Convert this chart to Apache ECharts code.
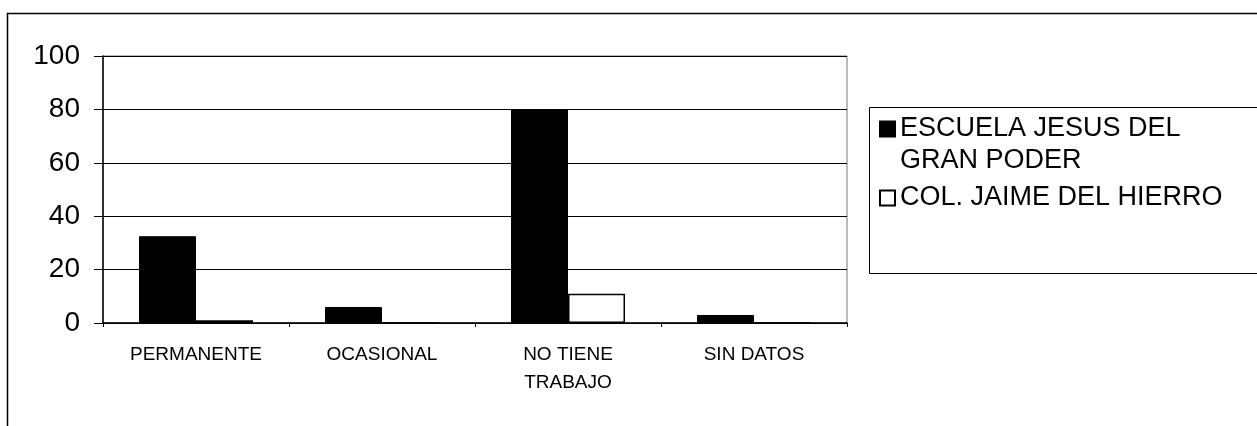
<!DOCTYPE html>
<html>
<head>
<meta charset="utf-8">
<script src="https://cdn.jsdelivr.net/npm/echarts@6/dist/echarts.min.js"></script>
<style>
  html, body { margin: 0; padding: 0; background: #fff; }
  #chart { width: 1257px; height: 426px; }
</style>
</head>
<body>
<div id="chart"></div>
<script>
// categorias y valores
const categorias = ['PERMANENTE', 'OCASIONAL', 'NO TIENE\nTRABAJO', 'SIN DATOS'];
const escuelaJesus = [32.5, 6, 80, 3];
const colJaime = [1, 0, 11, 0];
const nombres = ['ESCUELA JESUS DEL GRAN PODER', 'COL. JAIME DEL HIERRO'];

const myChart = echarts.init(document.getElementById('chart'));

const option = {
  backgroundColor: '#fff',
  animation: false,
  textStyle: { fontFamily: 'Liberation Sans, Arial, sans-serif' },
  graphic: [
    { // marco exterior
      type: 'rect', shape: { x: 7.5, y: 13.5, width: 1260, height: 430 },
      style: { fill: 'none', stroke: '#000', lineWidth: 1.5 }, silent: true
    },
    { // caja de leyenda
      type: 'rect', shape: { x: 869.5, y: 107.5, width: 400, height: 166 },
      style: { fill: 'none', stroke: '#000', lineWidth: 1 }, silent: true
    }
  ],
  legend: {
    orient: 'vertical',
    left: 879,
    top: 81,
    padding: 0,
    itemGap: 5,
    itemWidth: 15,
    itemHeight: 15,
    icon: 'rect',
    selectedMode: false,
    data: nombres,
    formatter: function (name) {
      // linea vacia arriba para que el cuadro quede junto a la primera linea
      if (name === nombres[0]) return '\nESCUELA JESUS DEL\nGRAN PODER';
      return name;
    },
    textStyle: { fontSize: 27, lineHeight: 32, color: '#000', padding: [0, 0, 0, 0] }
  },
  grid: {
    left: 103, right: 410, top: 56, bottom: 103,
    show: true, borderColor: '#777', borderWidth: 1
  },
  xAxis: {
    type: 'category',
    data: categorias,
    axisLine: { lineStyle: { color: '#000', width: 1.5 } },
    axisTick: { show: true, alignWithLabel: false, length: 4, lineStyle: { color: '#000' } },
    axisLabel: { color: '#000', fontSize: 19, lineHeight: 28, margin: 18, interval: 0 }
  },
  yAxis: {
    type: 'value',
    min: 0, max: 100, interval: 20,
    axisLine: { show: true, lineStyle: { color: '#000', width: 1.5 } },
    axisTick: { show: true, length: 9, lineStyle: { color: '#000' } },
    axisLabel: { color: '#000', fontSize: 28, margin: 23 },
    splitLine: { lineStyle: { color: '#000', width: 1 } }
  },
  series: [
    {
      name: nombres[0], type: 'bar', data: escuelaJesus,
      barWidth: 57, barGap: '0%',
      itemStyle: { color: '#000', borderColor: '#000', borderWidth: 1 }
    },
    {
      name: nombres[1], type: 'bar', data: colJaime,
      barWidth: 57,
      itemStyle: { color: '#fff', borderColor: '#000', borderWidth: 1.5 }
    }
  ]
};

myChart.setOption(option);
</script>
</body>
</html>
